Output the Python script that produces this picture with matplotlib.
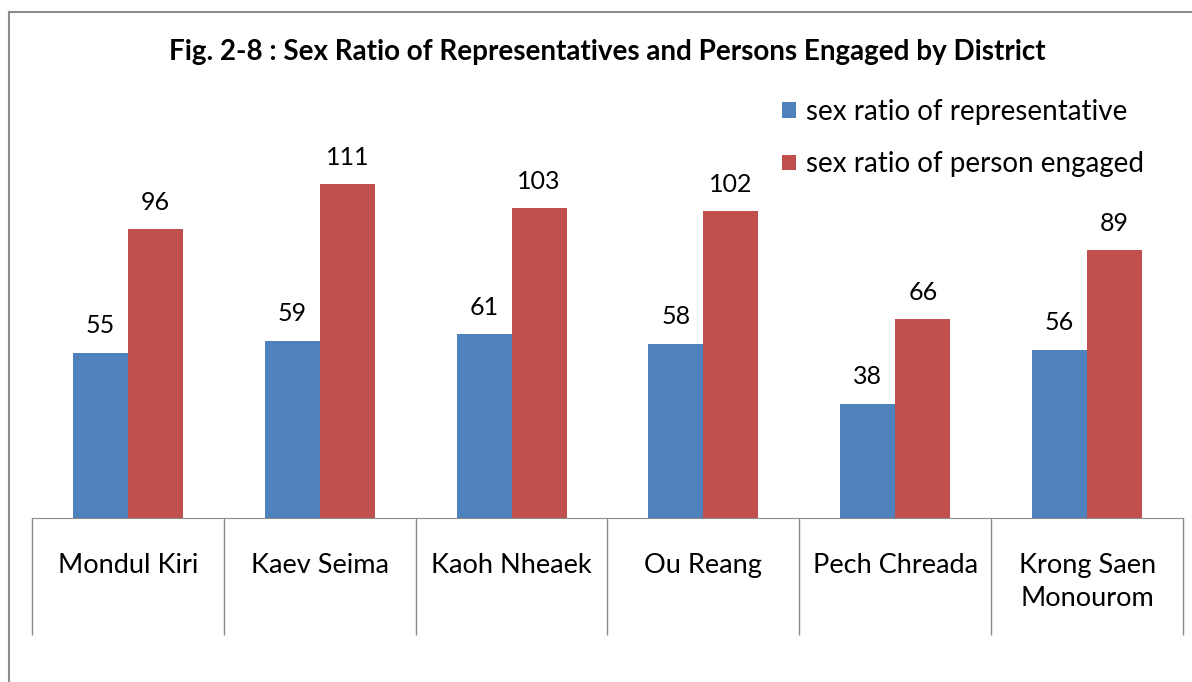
import matplotlib.pyplot as plt
from matplotlib.lines import Line2D
import numpy as np

districts = ["Mondul Kiri", "Kaev Seima", "Kaoh Nheaek", "Ou Reang",
             "Pech Chreada", "Krong Saen\nMonourom"]
rep_ratio = [55, 59, 61, 58, 38, 56]
engaged_ratio = [96, 111, 103, 102, 66, 89]

blue = "#4F81BD"
red = "#C0504D"
plt.rcParams["font.family"] = ["Lato", "DejaVu Sans"]

W, H = 1192, 682
fig = plt.figure(figsize=(W / 100, H / 100), dpi=100)

# outer chart border (left and top visible)
fig.add_artist(Line2D([9 / W, 9 / W], [0, 1 - 12 / H], color="#8c8c8c", lw=1.5))
fig.add_artist(Line2D([9 / W, 1], [1 - 12 / H, 1 - 12 / H], color="#8c8c8c", lw=1.5))

ax = fig.add_axes([32 / W, (H - 518) / H, (1183 - 32) / W, 361 / H])
x = np.arange(len(districts))
w = 0.287
b1 = ax.bar(x - w / 2, rep_ratio, w, color=blue, label="sex ratio of representative")
b2 = ax.bar(x + w / 2, engaged_ratio, w, color=red, label="sex ratio of person engaged")
for bars in (b1, b2):
    for r in bars:
        ax.annotate(f"{r.get_height():.0f}", (r.get_x() + r.get_width() / 2, r.get_height()),
                    xytext=(0, 11), textcoords="offset points", ha="center", va="bottom",
                    fontsize=18)

ax.set_xlim(-0.5, len(districts) - 0.5)
ax.set_ylim(0, 120)
ax.set_yticks([])
for s in ("top", "right", "left"):
    ax.spines[s].set_visible(False)
ax.spines["bottom"].set_color("#8c8c8c")

ax.set_xticks(x)
ax.set_xticklabels(districts, fontsize=19.5, linespacing=1.4)
ax.tick_params(axis="x", which="major", length=0, pad=25)
ax.set_xticks(np.arange(len(districts) + 1) - 0.5, minor=True)
ax.tick_params(axis="x", which="minor", length=84, color="#8c8c8c", width=1)

fig.text(607 / W, 1 - 52 / H,
         "Fig. 2-8 : Sex Ratio of Representatives and Persons Engaged by District",
         ha="center", va="center", fontsize=20, fontweight="bold")

ax.legend(loc="upper left", bbox_to_anchor=(768 / W, 1 - 85 / H), bbox_transform=fig.transFigure,
          frameon=False, fontsize=20, handlelength=0.5, handleheight=0.5,
          handletextpad=0.35, labelspacing=0.95, borderpad=0)

fig.savefig("out.png", dpi=100)
